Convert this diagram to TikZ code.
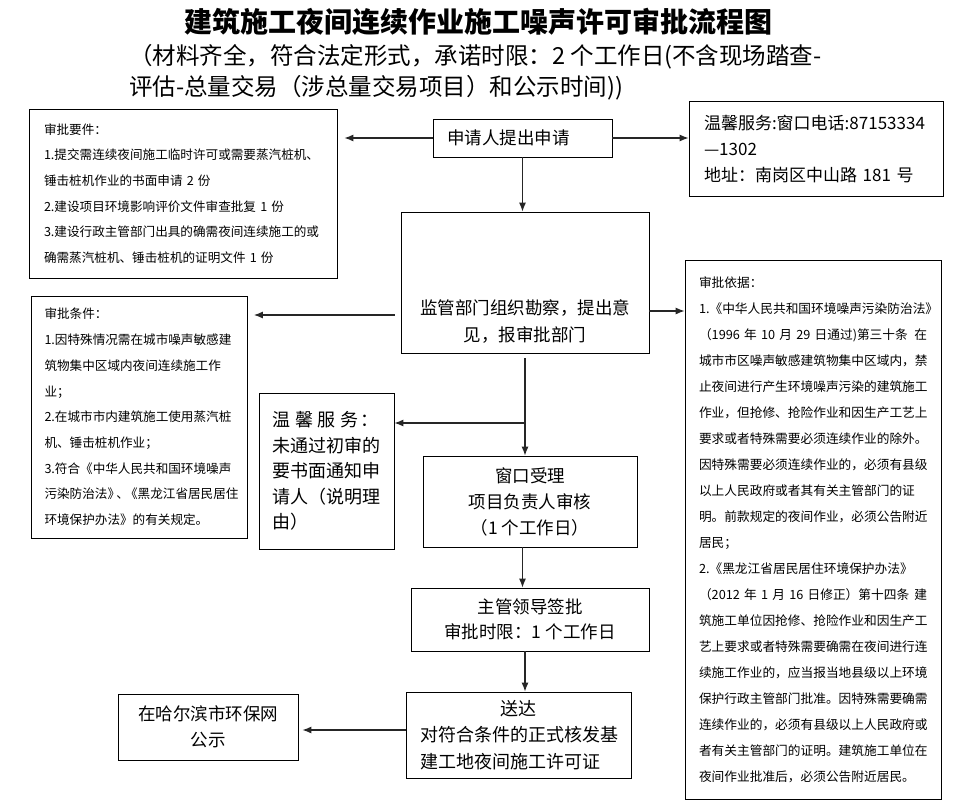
\documentclass[tikz,border=0pt]{standalone}
\usepackage{fontspec}
\setmainfont{Noto Sans CJK SC}
\usetikzlibrary{arrows.meta}

\begin{document}
\begin{tikzpicture}[x=1pt, y=-1pt,
  box/.style={draw, line width=0.8pt, inner sep=0pt},
  arr/.style={-{Latex[length=9pt,width=7pt]}, line width=1.1pt, black!85},
  small/.style={font=\fontsize{12.6}{25.7}\selectfont},
  mid/.style={font=\fontsize{17.5}{26}\selectfont}]

\useasboundingbox[fill=white] (0,0) rectangle (963,808);

% Title
\node (title) at (478.5,22) [font=\fontsize{28}{30}\selectfont\bfseries] {建筑施工夜间连续作业施工噪声许可审批流程图};
\node (subtitle) at (129,72.5) [anchor=west, align=left, inner sep=0pt, font=\fontsize{23.5}{31}\selectfont] {（材料齐全，符合法定形式，承诺时限：2 个工作日(不含现场踏查-\\评估-总量交易（涉总量交易项目）和公示时间))};

% Left column
\node (req) at (183,193.5) [box, small, align=left, text width=278pt, inner xsep=15pt, minimum height=169pt] {审批要件：\\1.提交需连续夜间施工临时许可或需要蒸汽桩机、\\锤击桩机作业的书面申请 2 份\\2.建设项目环境影响评价文件审查批复 1 份\\3.建设行政主管部门出具的确需夜间连续施工的或\\确需蒸汽桩机、锤击桩机的证明文件 1 份};

\node (cond) at (139.5,417) [box, small, align=left, text width=190pt, inner xsep=13pt, minimum height=242pt] {审批条件：\\1.因特殊情况需在城市噪声敏感建\\筑物集中区域内夜间连续施工作\\业；\\2.在城市市内建筑施工使用蒸汽桩\\机、锤击桩机作业；\\3.符合《中华人民共和国环境噪声\\污染防治法》\kern-.3em、\kern-.3em《黑龙江省居民居住\\环境保护办法》的有关规定。};

\node (notify) at (326.5,471) [box, font=\fontsize{18}{25.5}\selectfont, align=left, text width=108pt, inner xsep=13.5pt, minimum height=156pt] {\mbox{温\hspace{4.5pt}馨\hspace{4.5pt}服\hspace{4.5pt}务\hspace{2pt}：}\\未通过初审的\\要书面通知申\\请人（说明理\\由）};

\node (publish) at (208,727) [box, mid, align=center, minimum width=180pt, minimum height=66pt] {在哈尔滨市环保网\\公示};

% Middle column
\node (apply) at (522.5,138) [box, mid, align=left, text width=151pt, inner xsep=14pt, minimum height=38pt] {申请人提出申请};

\node (survey) at (525,282.5) [box, minimum width=248pt, minimum height=141pt] {};
\node (surveytext) at (525,322) [align=center, font=\fontsize{17.5}{27}\selectfont] {监管部门组织勘察，提出意\\见，报审批部门};

\node (window) at (530,501.5) [box, mid, align=center, minimum width=214pt, minimum height=91pt] {窗口受理\\项目负责人审核\\（1 个工作日）};

\node (sign) at (530,619.5) [box, font=\fontsize{17.5}{25}\selectfont, align=center, minimum width=238pt, minimum height=63pt] {主管领导签批\\审批时限：1 个工作日};

\node (deliver) at (518.5,735) [box, font=\fontsize{18}{26.5}\selectfont, align=left, text width=197pt, inner xsep=14pt, minimum height=86pt] {\hfill 送达\hfill\null\\对符合条件的正式核发基\\建工地夜间施工许可证};

% Right column
\node (svc) at (816,148.5) [box, font=\fontsize{17}{26}\selectfont, align=left, text width=224pt, inner xsep=15pt, minimum height=95pt] {温馨服务:窗口电话:87153334\\—1302\\地址：南岗区中山路 181 号};

\node (basis) at (813,529.5) [box, font=\fontsize{12.7}{26}\selectfont, align=left, text width=228pt, inner xsep=14pt, minimum height=539pt] {审批依据：\\1.《中华人民共和国环境噪声污染防治法》\\（1996 年 10 月 29 日通过)第三十条\hfill 在\\城市市区噪声敏感建筑物集中区域内，禁\\止夜间进行产生环境噪声污染的建筑施工\\作业，但抢修、抢险作业和因生产工艺上\\要求或者特殊需要必须连续作业的除外。\\因特殊需要必须连续作业的，必须有县级\\以上人民政府或者其有关主管部门的证\\明。前款规定的夜间作业，必须公告附近\\居民；\\2.《黑龙江省居民居住环境保护办法》\\（2012 年 1 月 16 日修正）第十四条\hfill 建\\筑施工单位因抢修、抢险作业和因生产工\\艺上要求或者特殊需要确需在夜间进行连\\续施工作业的，应当报当地县级以上环境\\保护行政主管部门批准。因特殊需要确需\\连续作业的，必须有县级以上人民政府或\\者有关主管部门的证明。建筑施工单位在\\夜间作业批准后，必须公告附近居民。};

% Arrows
\coordinate (rowcond) at (0,315);
\coordinate (rowbasis) at (0,311);
\coordinate (branch) at (525,423);
\coordinate (rowpub) at (0,730);

\draw[arr, shorten >=7pt] (apply.west) -- (apply.west -| req.east);
\draw[arr] (apply.east) -- (apply.east -| svc.west);
\draw[arr] (apply.south) -- (apply.south |- survey.north);
\draw[arr, shorten <=6pt, shorten >=6pt] (survey.west |- rowcond) -- (cond.east |- rowcond);
\draw[arr] (survey.east |- rowbasis) -- (basis.west |- rowbasis);
\draw[arr, shorten <=5pt] (survey.south) -- (survey.south |- window.north);
\draw[arr] (branch) -- (branch -| notify.east);
\draw[arr] (window.south -| apply.south) -- (sign.north -| apply.south);
\draw[arr] (sign.south -| survey.south) -- (deliver.north -| survey.south);
\draw[arr, shorten >=4pt] (deliver.west |- rowpub) -- (publish.east |- rowpub);

\end{tikzpicture}
\end{document}
